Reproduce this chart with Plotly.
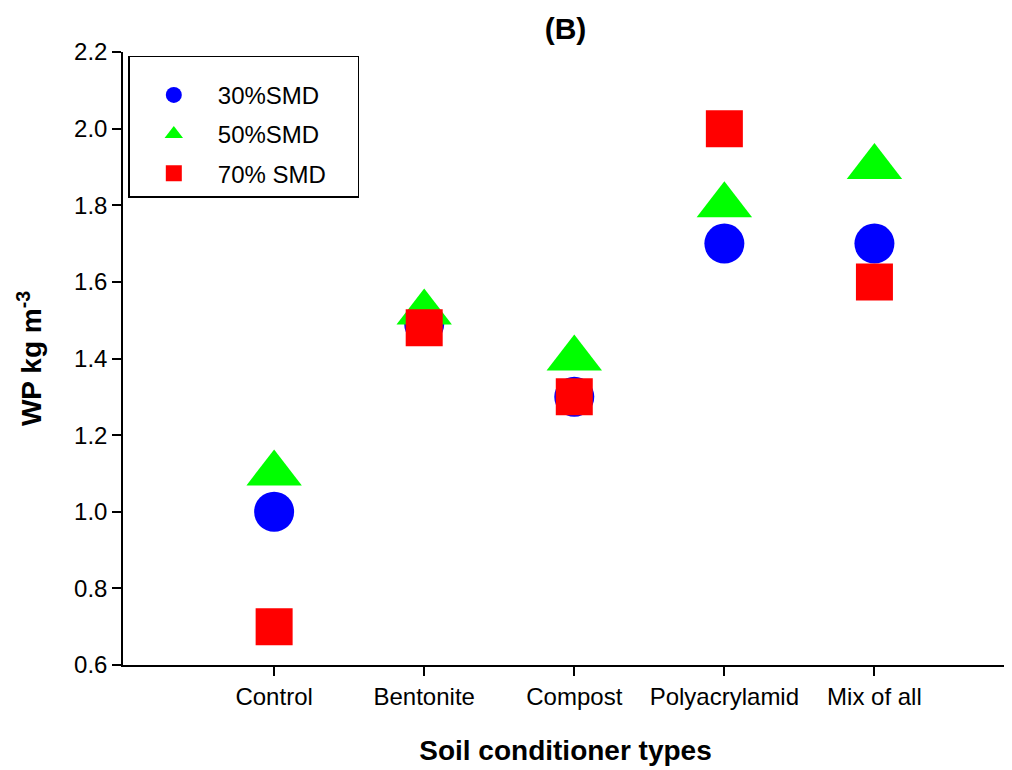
import plotly.graph_objects as go

categories = ["Control", "Bentonite", "Compost", "Polyacrylamid", "Mix of all"]
smd30 = [1.00, 1.49, 1.30, 1.70, 1.70]
smd50 = [1.10, 1.52, 1.40, 1.80, 1.90]
smd70 = [0.70, 1.48, 1.30, 2.00, 1.60]
series_names = ["30%SMD", "50%SMD", "70% SMD"]
y_ticks = [0.6, 0.8, 1.0, 1.2, 1.4, 1.6, 1.8, 2.0, 2.2]

FONT = "Arial, Liberation Sans, sans-serif"

fig = go.Figure()
styles = [
    (smd30, "circle", "#0000FF", 40),
    (smd50, "triangle-up", "#00FF00", 48),
    (smd70, "square", "#FF0000", 37),
]
for i, (vals, sym, col, sz) in enumerate(styles):
    fig.add_trace(go.Scatter(
        x=categories, y=vals, mode="markers",
        name=series_names[i] + "\u00a0\u00a0\u00a0\u00a0",
        legendgroup=f"g{i}",
        marker=dict(symbol=sym, color=col, size=sz, line=dict(width=0)),
    ))

fig.update_layout(
    width=1012, height=770,
    margin=dict(l=115, r=12, t=44, b=113),
    paper_bgcolor="white", plot_bgcolor="white",
    font=dict(family=FONT, color="black", size=24),
    title=dict(text="<b>(B)</b>", x=0.5, xref="paper", xanchor="center",
               y=1 - 20 / 770, yanchor="middle", font=dict(size=30, family=FONT)),
    showlegend=True,
    legend=dict(
        x=0.006, y=0.994, xanchor="left", yanchor="top",
        bordercolor="black", borderwidth=1.5, bgcolor="white",
        font=dict(size=24, family=FONT), itemwidth=78,
        tracegroupgap=5, traceorder="grouped",
        title=dict(text="\u00a0", font=dict(size=12, family=FONT)),
    ),
)
fig.update_xaxes(
    type="category", range=[-1.007, 4.89],
    showline=True, linecolor="black", linewidth=1.5,
    ticks="outside", ticklen=9, tickwidth=1.5, tickcolor="black",
    showgrid=False, zeroline=False,
    tickfont=dict(size=24, family=FONT),
    title=dict(text="<b>Soil conditioner types</b>", standoff=32,
               font=dict(size=28, family=FONT)),
)
fig.update_yaxes(
    range=[0.6, 2.2], tickvals=y_ticks, tickformat=".1f",
    showline=True, linecolor="black", linewidth=1.5,
    ticks="outside", ticklen=9, tickwidth=1.5, tickcolor="black",
    showgrid=False, zeroline=False,
    tickfont=dict(size=24, family=FONT),
    title=dict(text="<b>WP kg m<sup>-3</sup></b>", standoff=24,
               font=dict(size=28, family=FONT)),
)

fig.write_html("out.html")
